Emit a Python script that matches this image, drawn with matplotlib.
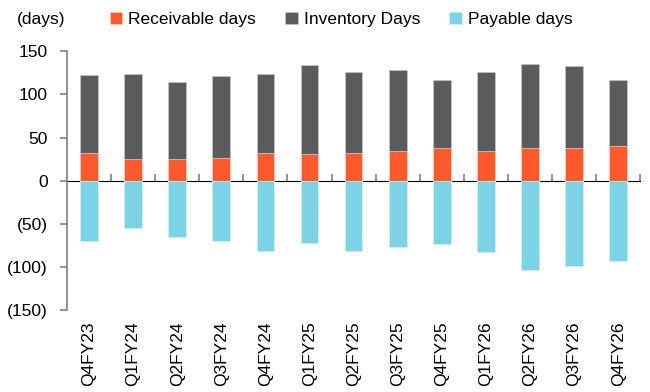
import numpy as np
import matplotlib
matplotlib.use("Agg")
import matplotlib.pyplot as plt
from matplotlib.ticker import FuncFormatter

# quarters and the three day-count series
quarters = ["Q4FY23", "Q1FY24", "Q2FY24", "Q3FY24", "Q4FY24", "Q1FY25", "Q2FY25",
            "Q3FY25", "Q4FY25", "Q1FY26", "Q2FY26", "Q3FY26", "Q4FY26"]
receivable = [32, 25, 25, 26, 32, 31, 32, 34, 38, 35, 38, 38, 40]
inventory = [90, 99, 89, 95, 92, 103, 94, 94, 79, 91, 97, 95, 77]
payable = [-70, -55, -65, -70, -81, -72, -82, -77, -73, -83, -104, -99, -93]

plt.rcParams['font.family'] = ['Liberation Sans', 'DejaVu Sans']
plt.rcParams['font.size'] = 12.5

fig = plt.figure(figsize=(6.5, 3.92), dpi=100)
ax = fig.add_axes([0.103, 0.209, 0.882, 0.660])

x = np.arange(len(quarters))
w = 0.4
ax.bar(x, receivable, w, color="#FF5A2E", edgecolor="#FFD0C0", linewidth=0.5, label="Receivable days")
ax.bar(x, inventory, w, bottom=receivable, color="#5B5C5E", edgecolor="#C8C8C8", linewidth=0.5,
       label="Inventory Days")
ax.bar(x, payable, w, color="#7DD3E6", edgecolor="#D0F0F8", linewidth=0.5, label="Payable days")

ax.set_xlim(-0.5, len(quarters) - 0.5)
ax.set_ylim(-150, 150)
ax.set_yticks([150, 100, 50, 0, -50, -100, -150])
ax.yaxis.set_major_formatter(FuncFormatter(lambda v, p: "(%d)" % abs(v) if v < 0 else "%d" % v))

for s in ["top", "right", "bottom"]:
    ax.spines[s].set_visible(False)
ax.spines["left"].set_color("#808080")
ax.spines["left"].set_linewidth(1.2)
ax.tick_params(axis="y", direction="out", length=5, color="#808080", width=1.2, pad=9)

# category labels sit at the bottom, the axis line itself sits on zero
ax.set_xticks(x)
ax.set_xticklabels(quarters, rotation=90)
ax.tick_params(axis="x", length=0, pad=8)

zero = ax.secondary_xaxis(0.5)
zero.set_xticks(np.arange(len(quarters)) + 0.5)
zero.set_xticklabels([])
zero.tick_params(direction="out", length=5, color="#808080", width=1.2)
zero.spines["bottom"].set_color("#808080")
zero.spines["bottom"].set_linewidth(1.2)

fig.text(0.026, 0.951, "(days)", ha="left", va="center")
fig.legend(loc="center left", bbox_to_anchor=(0.145, 0.951), ncol=3, frameon=False,
           handlelength=0.7, handleheight=0.7, handletextpad=0.35, columnspacing=1.7)

fig.savefig("out.png", dpi=100)
